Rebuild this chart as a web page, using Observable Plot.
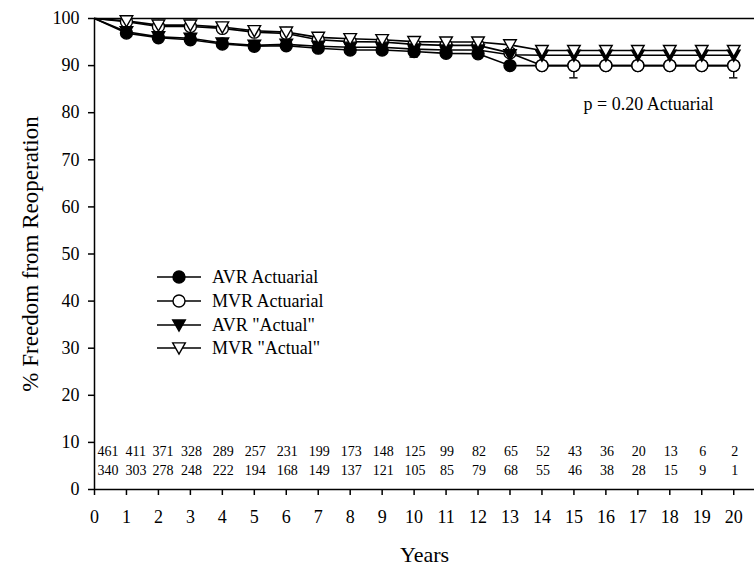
<!DOCTYPE html>
<html>
<head>
<meta charset="utf-8">
<script src="https://cdn.jsdelivr.net/npm/d3@7"></script>
<script src="https://cdn.jsdelivr.net/npm/@observablehq/plot@0.6"></script>
<style>
  html, body { margin: 0; padding: 0; background: #fff; }
  #chart svg { display: block; }
</style>
</head>
<body>
<div id="chart"></div>
<script>
// ---- data ----
const years = [0,1,2,3,4,5,6,7,8,9,10,11,12,13,14,15,16,17,18,19,20];
const avrActuarial = [100,96.9,95.9,95.5,94.6,94.1,94.2,93.7,93.3,93.3,93.0,92.6,92.5,90.0,90.0,90.0,90.0,90.0,90.0,90.0,90.0];
const mvrActuarial = [100,99.3,98.3,98.3,97.9,97.1,96.8,95.5,95.1,95.0,94.5,94.3,94.3,92.7,90.0,90.0,90.0,90.0,90.0,90.0,90.0];
const avrActual    = [100,97.2,96.1,95.8,94.8,94.3,94.5,94.1,93.9,93.9,93.5,93.3,93.3,92.3,92.2,92.2,92.2,92.2,92.2,92.2,92.2];
const mvrActual    = [100,99.5,98.6,98.6,98.2,97.4,97.1,96.0,95.7,95.5,95.1,95.0,95.0,94.4,93.2,93.2,93.2,93.2,93.2,93.2,93.2];
const seriesNames = ["AVR Actuarial", "MVR Actuarial", "AVR \"Actual\"", "MVR \"Actual\""];
const avrAtRisk = [461,411,371,328,289,257,231,199,173,148,125,99,82,65,52,43,36,20,13,6,2];
const mvrAtRisk = [340,303,278,248,222,194,168,149,137,121,105,85,79,68,55,46,38,28,15,9,1];
const errYears  = [5, 10, 15, 20];
const errSeries = ["AVR Actuarial", "AVR Actuarial", "MVR Actuarial", "MVR Actuarial"];
const errValue  = [94.1, 93.0, 90.0, 90.0];
const errLow    = [93.2, 91.8, 87.4, 87.4];
const yTicks = [0,10,20,30,40,50,60,70,80,90,100];
const pText = "p = 0.20 Actuarial";

// ---- build table ----
const seriesValues = [avrActuarial, mvrActuarial, avrActual, mvrActual];
const rows = [];
seriesNames.forEach((name, si) => {
  years.forEach((yr, i) => rows.push({series: name, year: yr, value: seriesValues[si][i]}));
});
const errRows = errYears.map((yr, i) => ({year: yr, series: errSeries[i], value: errValue[i], low: errLow[i]}));
const atRisk = years.map((yr, i) => ({year: yr, avr: avrAtRisk[i], mvr: mvrAtRisk[i]}));

const FONT = "'Liberation Serif', 'Times New Roman', serif";

const triDown = {
  draw(context, size) {
    const s = Math.sqrt(size / Math.PI);
    context.moveTo(-s * 1.05, -s * 0.85);
    context.lineTo(s * 1.05, -s * 0.85);
    context.lineTo(0, s * 1.0);
    context.closePath();
  }
};
const styles = {
  "AVR Actuarial": {symbol: "circle", fill: "black"},
  "MVR Actuarial": {symbol: "circle", fill: "white"},
  "AVR \"Actual\"": {symbol: triDown, fill: "black"},
  "MVR \"Actual\"": {symbol: triDown, fill: "white"}
};

const dotMarks = seriesNames.map(name =>
  Plot.dot(rows.filter(d => d.series === name && d.year >= 1), {
    x: "year", y: "value", r: 6,
    symbol: () => styles[name].symbol,
    fill: styles[name].fill, stroke: "black", strokeWidth: 1.4
  })
);

const W = 754, H = 567;
const fmt = d => String(d);
const riskOpts = (sel, key, dy, anchor, dx) =>
  Plot.text(atRisk.filter(sel), {x: "year", text: key, frameAnchor: "bottom", dy, textAnchor: anchor, dx, fontSize: 14});

const chart = Plot.plot({
  width: W, height: H,
  marginLeft: 94, marginRight: 0, marginTop: 18, marginBottom: 78,
  style: {fontFamily: FONT, fontSize: "18px", background: "white", color: "black"},
  x: {domain: [0, 20.65], axis: null},
  y: {domain: [0, 100], axis: null},
  symbol: {type: "identity"},
  marks: [
    Plot.axisY({ticks: yTicks, tickSize: 6, tickPadding: 9, tickFormat: fmt, label: null, strokeWidth: 1.5}),
    Plot.axisX({ticks: years, tickSize: 6, tickPadding: 15, tickFormat: fmt, label: null, strokeWidth: 1.5}),
    Plot.ruleY([0, 100], {stroke: "black", strokeWidth: 1.5}),
    Plot.ruleX([0], {y1: 0, y2: 100, stroke: "black", strokeWidth: 1.5}),
    Plot.line(rows, {x: "year", y: "value", z: "series", stroke: "black", strokeWidth: 1.6}),
    Plot.ruleX(errRows, {x: "year", y1: "low", y2: "value", stroke: "black", strokeWidth: 1.4}),
    Plot.ruleY(errRows, {y: "low", x1: d => d.year - 0.13, x2: d => d.year + 0.13, stroke: "black", strokeWidth: 1.4}),
    ...dotMarks,
    // at-risk numbers
    riskOpts(d => d.year === 0, "avr", -34, "start", 3),
    riskOpts(d => d.year === 0, "mvr", -15, "start", 3),
    riskOpts(d => d.year === 1, "avr", -34, "start", -1),
    riskOpts(d => d.year === 1, "mvr", -15, "start", -1),
    riskOpts(d => d.year === 2, "avr", -34, "start", -6),
    riskOpts(d => d.year === 2, "mvr", -15, "start", -6),
    riskOpts(d => d.year >= 3, "avr", -34, "middle", 1),
    riskOpts(d => d.year >= 3, "mvr", -15, "middle", 1),
    // annotation
    Plot.text([pText], {frameAnchor: "top-left", dx: 489, dy: 79, textAnchor: "start", fontSize: 18}),
    // axis titles
    Plot.text(["Years"], {frameAnchor: "bottom", dy: 72, textAnchor: "middle", fontSize: 22, fontFamily: FONT}),
    Plot.text(["% Freedom from Reoperation"], {frameAnchor: "left", dx: -64, rotate: -90, textAnchor: "middle", fontSize: 23, fontFamily: FONT})
  ]
});

// ---- legend ----
const svg = d3.select(chart);
const lg = svg.append("g").attr("font-family", FONT).attr("font-size", 18).attr("text-anchor", "start");
const rowY = [277, 301, 325, 348];
seriesNames.forEach((name, i) => {
  const y = rowY[i];
  lg.append("line").attr("x1", 157).attr("x2", 201).attr("y1", y).attr("y2", y)
    .attr("stroke", "black").attr("stroke-width", 1.6);
  const st = styles[name];
  const sym = st.symbol === "circle" ? d3.symbolCircle : st.symbol;
  lg.append("path").attr("d", d3.symbol(sym, Math.PI * 36)())
    .attr("transform", `translate(179,${y})`)
    .attr("fill", st.fill).attr("stroke", "black").attr("stroke-width", 1.4);
  lg.append("text").attr("x", 212).attr("y", y).attr("dy", "0.35em").attr("text-anchor", "start").text(name);
});

document.getElementById("chart").appendChild(chart);
</script>
</body>
</html>
